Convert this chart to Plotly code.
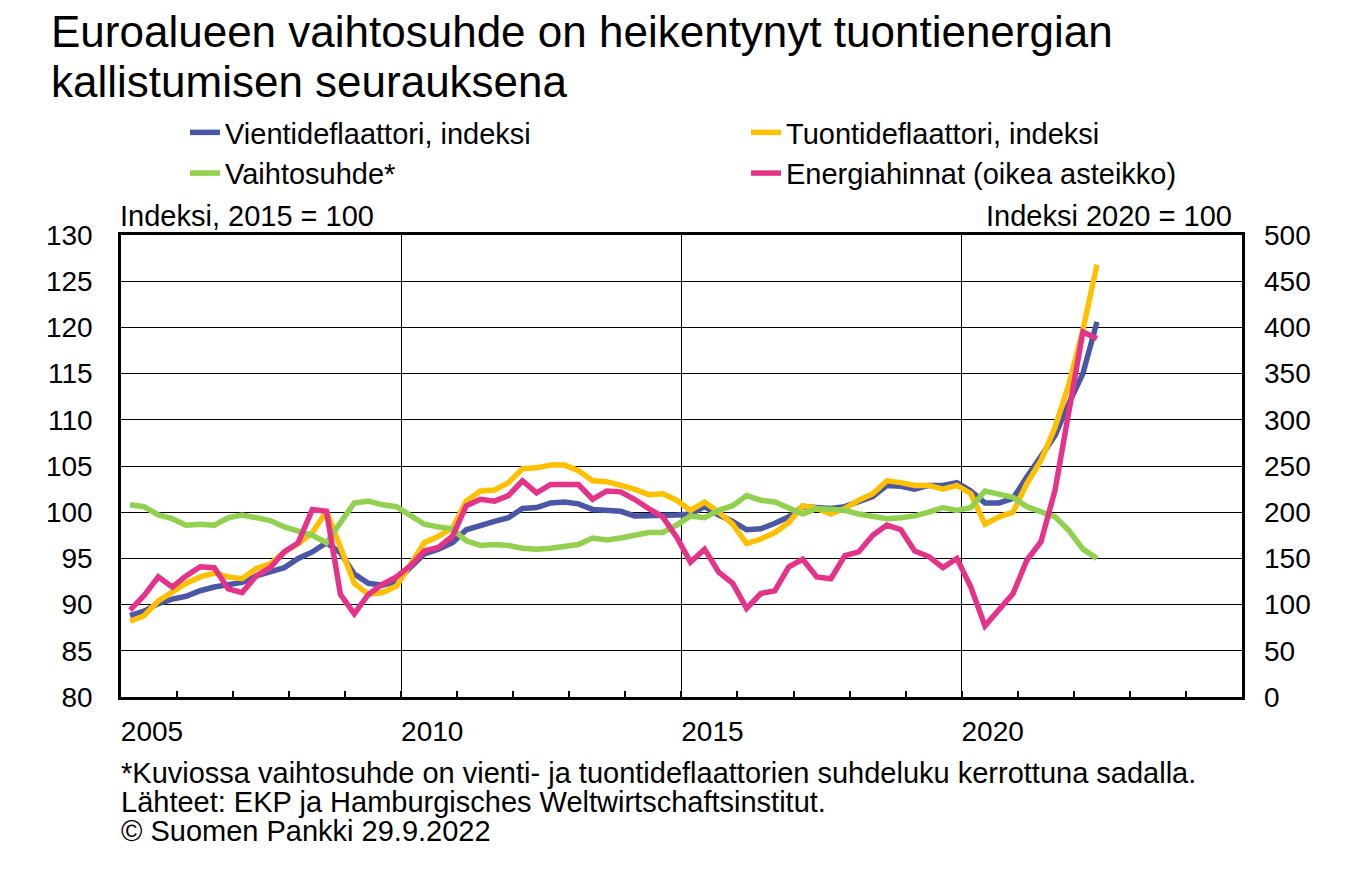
import plotly.graph_objects as go
import pandas as pd

# Quarters 2005Q1 .. 2022Q2 (plotted at the last month of each quarter)
quarters = pd.period_range("2005Q1", "2022Q2", freq="Q")
x_dates = [f"{p.year}-{p.quarter*3:02d}-01" for p in quarters]

vienti = [88.8, 89.3, 90.1, 90.6, 90.9, 91.5, 91.9, 92.2, 92.4, 93.1,
          93.5, 94.0, 95.0, 95.7, 96.7, 95.6, 93.3, 92.3, 92.1, 92.5,
          94.0, 95.5, 96.0, 96.7, 98.1, 98.6, 99.0, 99.4, 100.4, 100.5,
          101.0, 101.1, 100.9, 100.3, 100.2, 100.1, 99.6, 99.6, 99.6, 99.7,
          99.8, 100.6, 99.7, 99.0, 98.1, 98.2, 98.8, 99.5, 100.6, 100.5,
          100.4, 100.6, 101.2, 101.7, 102.9, 102.8, 102.5, 102.9, 102.9, 103.2,
          102.3, 101.0, 101.0, 101.5, 103.8, 106.0, 108.3, 111.8, 115.0, 120.6]

tuonti = [88.2, 88.8, 90.4, 91.3, 92.3, 93.0, 93.4, 93.0, 92.8, 93.9,
          94.4, 95.7, 96.6, 97.8, 100.1, 96.2, 92.3, 91.1, 91.3, 92.0,
          94.4, 96.7, 97.4, 98.3, 101.2, 102.3, 102.4, 103.2, 104.7, 104.8,
          105.1, 105.1, 104.5, 103.4, 103.3, 102.9, 102.5, 101.9, 102.0, 101.3,
          100.2, 101.1, 100.0, 98.7, 96.6, 97.1, 97.8, 98.9, 100.7, 100.4,
          99.8, 100.4, 101.3, 102.0, 103.4, 103.2, 102.9, 102.9, 102.5, 102.9,
          102.0, 98.7, 99.5, 100.0, 103.1, 105.6, 109.2, 113.9, 119.7, 126.8]

vaihtosuhde = [100.8, 100.6, 99.7, 99.3, 98.6, 98.7, 98.6, 99.4, 99.7, 99.4,
               99.1, 98.4, 98.0, 97.5, 96.7, 98.8, 101.0, 101.2, 100.8, 100.6,
               99.6, 98.7, 98.4, 98.2, 96.9, 96.4, 96.5, 96.4, 96.1, 96.0,
               96.1, 96.3, 96.5, 97.2, 97.0, 97.2, 97.5, 97.8, 97.8, 98.6,
               99.6, 99.4, 100.2, 100.7, 101.8, 101.3, 101.1, 100.5, 99.8, 100.4,
               100.3, 100.2, 99.8, 99.5, 99.3, 99.4, 99.6, 100.0, 100.5, 100.2,
               100.5, 102.3, 101.9, 101.6, 100.6, 100.0, 99.5, 98.0, 96.0, 95.0]

energia = [94, 110, 130, 119, 131, 141, 140, 117, 113, 131,
           140, 157, 167, 203, 201, 111, 90, 111, 122, 130,
           142, 158, 162, 174, 207, 214, 212, 218, 234, 221,
           230, 230, 230, 214, 223, 222, 214, 204, 195, 173,
           146, 160, 135, 123, 96, 112, 115, 141, 149, 130,
           128, 153, 157, 175, 186, 181, 158, 152, 140, 150,
           119, 77, 94, 112, 148, 168, 224, 310, 395, 388]

names = ["Vientideflaattori, indeksi", "Tuontideflaattori, indeksi",
         "Vaihtosuhde*", "Energiahinnat (oikea asteikko)"]
colors = ["#4A56A6", "#FFC000", "#92D050", "#E6338A"]

year_ticks = ["2005-01-01", "2010-01-01", "2015-01-01", "2020-01-01"]
year_labels = ["2005", "2010", "2015", "2020"]
left_ticks = list(range(80, 131, 5))
right_ticks = list(range(0, 501, 50))

title_lines = ["Euroalueen vaihtosuhde on heikentynyt tuontienergian",
               "kallistumisen seurauksena"]
footer = ["*Kuviossa vaihtosuhde on vienti- ja tuontideflaattorien suhdeluku kerrottuna sadalla.",
          "Lähteet: EKP ja Hamburgisches Weltwirtschaftsinstitut.",
          "© Suomen Pankki 29.9.2022"]

FONT = "Liberation Sans, Arial, sans-serif"
PAGE_PAD = 8                      # default body margin of the html page
W, H = 1348 - PAGE_PAD, 880 - PAGE_PAD
PLOT_LEFT, PLOT_RIGHT = 121 - PAGE_PAD, 1242 - PAGE_PAD
PLOT_TOP, PLOT_BOTTOM = 235 - PAGE_PAD, 697 - PAGE_PAD


def py_to_paper(py_page):
    py = py_page - PAGE_PAD
    return (PLOT_BOTTOM - py) / (PLOT_BOTTOM - PLOT_TOP)


def px_to_paper(px_page):
    px = px_page - PAGE_PAD
    return (px - PLOT_LEFT) / (PLOT_RIGHT - PLOT_LEFT)


fig = go.Figure()
for ys, nm, col in zip([vienti, tuonti, vaihtosuhde], names[:3], colors[:3]):
    fig.add_trace(go.Scatter(x=x_dates, y=ys, name=nm, mode="lines",
                             line=dict(color=col, width=5.5)))
fig.add_trace(go.Scatter(x=x_dates, y=energia, name=names[3], mode="lines",
                         line=dict(color=colors[3], width=5.5), yaxis="y2"))

fig.update_layout(
    width=W, height=H,
    margin=dict(l=PLOT_LEFT, r=W - PLOT_RIGHT, t=PLOT_TOP, b=H - PLOT_BOTTOM,
                autoexpand=False),
    paper_bgcolor="white", plot_bgcolor="white",
    font=dict(family=FONT, color="black", size=28),
    showlegend=True,
    legend=dict(orientation="h", x=px_to_paper(185), xanchor="left",
                y=1 - (107 - PAGE_PAD) / H, yref="container", yanchor="top", xref="paper",
                entrywidth=516, font=dict(size=29, family=FONT),
                bgcolor="rgba(0,0,0,0)", tracegroupgap=0),
    xaxis=dict(type="date", range=["2005-01-01", "2025-01-01"],
               tickvals=year_ticks, ticktext=year_labels,
               ticks="inside", ticklen=6, tickwidth=1.5, tickcolor="black",
               ticklabelshift=31, ticklabelstandoff=8,
               showgrid=True, gridcolor="black", gridwidth=1.2,
               showline=True, linecolor="black", linewidth=2.5, mirror=True,
               minor=dict(dtick="M12", ticks="inside", ticklen=6, tickwidth=1.5,
                          tickcolor="black", showgrid=False),
               tickfont=dict(size=28), zeroline=False),
    yaxis=dict(range=[80, 130], tickvals=left_ticks, ticks="",
               showgrid=True, gridcolor="black", gridwidth=1.2,
               showline=True, linecolor="black", linewidth=2.5, mirror=True,
               ticklabelstandoff=20, tickfont=dict(size=28), zeroline=False),
    yaxis2=dict(range=[0, 500], tickvals=right_ticks, overlaying="y", side="right",
                ticks="", showgrid=False, showline=False, zeroline=False,
                ticklabelstandoff=21, tickfont=dict(size=28)),
)

# title (two lines, tight line spacing as in the reference)
for line, cy in zip(title_lines, [32, 82]):
    fig.add_annotation(text=line, xref="paper", yref="paper",
                       x=px_to_paper(52), y=py_to_paper(cy), xanchor="left", yanchor="middle",
                       xshift=-3, showarrow=False, font=dict(size=44, family=FONT))

fig.add_annotation(text="Indeksi, 2015 = 100", xref="paper", yref="paper",
                   x=0, y=py_to_paper(216), xanchor="left", yanchor="middle", xshift=-3,
                   showarrow=False, font=dict(size=29))
fig.add_annotation(text="Indeksi 2020 = 100", xref="paper", yref="paper",
                   x=1, y=py_to_paper(216), xanchor="right", yanchor="middle", xshift=-8,
                   showarrow=False, font=dict(size=29))

for i, line in enumerate(footer):
    fig.add_annotation(text=line, xref="paper", yref="paper",
                       x=0, xanchor="left", y=py_to_paper(773 + 29*i), yanchor="middle",
                       xshift=-2, showarrow=False, font=dict(size=29))

fig.write_html("out.html")
